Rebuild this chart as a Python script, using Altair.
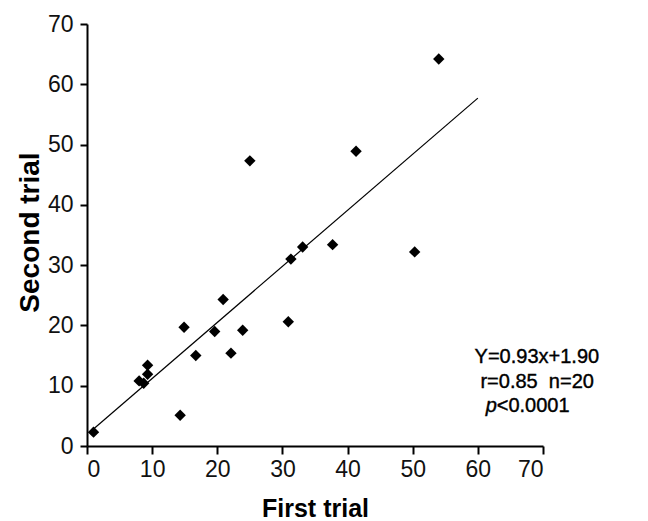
import altair as alt
import pandas as pd

# Data
first_trial = [1.0, 14.3, 8.0, 8.7, 9.3, 9.3, 14.9, 16.7, 19.6, 20.9,
               22.1, 23.9, 30.9, 31.3, 33.1, 37.7, 25.0, 41.3, 50.3, 54.0]
second_trial = [2.3, 5.1, 10.8, 10.4, 11.9, 13.4, 19.7, 15.0, 19.0, 24.3,
                15.4, 19.2, 20.6, 31.0, 33.0, 33.4, 47.3, 48.9, 32.2, 64.2]

slope, intercept = 0.93, 1.90
fit_x = [1, 60]
fit_y = [slope * v + intercept for v in fit_x]

tick_values = [0, 10, 20, 30, 40, 50, 60, 70]

ann_text = ["Y=0.93x+1.90", "r=0.85\u00a0\u00a0n=20", "<0.0001"]
ann_x = [59.5, 60.4, 62.9]
ann_y = [14.8, 10.6, 6.6]
italic_text = ["p"]
italic_x = [61.2]
italic_y = [6.6]

pts = pd.DataFrame({"first": first_trial, "second": second_trial})
fit = pd.DataFrame({"first": fit_x, "second": fit_y})
ann = pd.DataFrame({"first": ann_x, "second": ann_y, "t": ann_text})
ital = pd.DataFrame({"first": italic_x, "second": italic_y, "t": italic_text})

FONT = "Liberation Sans"

x_scale = alt.Scale(domain=[0, 70], nice=False, zero=False)
y_scale = alt.Scale(domain=[0, 70], nice=False, zero=False)

x_axis = alt.Axis(values=tick_values, grid=False, domainColor="black", domainWidth=2,
                  tickColor="black", tickWidth=2, tickSize=8, labelFont=FONT,
                  labelFontSize=23, labelColor="#111", labelPadding=4,
                  title="First trial", titleFont=FONT, titleFontSize=25,
                  titleFontWeight="bold", titleColor="black", titleBaseline="alphabetic",
                  titleY=70, titleX=228, titleAlign="center")
y_axis = alt.Axis(values=tick_values, grid=False, domainColor="black", domainWidth=2,
                  tickColor="black", tickWidth=2, tickSize=7, labelFont=FONT,
                  labelFontSize=23, labelColor="#111", labelPadding=7,
                  title="Second trial", titleFont=FONT, titleFontSize=28,
                  titleFontWeight="bold", titleColor="black", titleBaseline="middle",
                  titleX=-57, titleY=208, titleAlign="center", titleAngle=270)

points = alt.Chart(pts).mark_point(shape="diamond", filled=True, size=130,
                                   color="black", opacity=1).encode(
    x=alt.X("first:Q", scale=x_scale, axis=x_axis),
    y=alt.Y("second:Q", scale=y_scale, axis=y_axis),
)

line = alt.Chart(fit).mark_line(color="black", strokeWidth=1.2).encode(
    x=alt.X("first:Q", scale=x_scale),
    y=alt.Y("second:Q", scale=y_scale),
)

text = alt.Chart(ann).mark_text(align="left", baseline="middle", font=FONT,
                                fontSize=20, color="black", stroke="black",
                                strokeWidth=0.4).encode(
    x="first:Q", y="second:Q", text="t:N")

itext = alt.Chart(ital).mark_text(align="left", baseline="middle", font=FONT,
                                  fontSize=20, fontStyle="italic", color="black",
                                  stroke="black", strokeWidth=0.4).encode(
    x="first:Q", y="second:Q", text="t:N")

chart = alt.layer(line, points, text, itext).properties(
    width=456, height=422,
    autosize=alt.AutoSizeParams(type="none"),
    padding={"left": 79, "top": 16, "right": 97, "bottom": 75},
).configure_view(stroke=None)

chart.save("out.html", embed_options={"renderer": "svg", "actions": False})
